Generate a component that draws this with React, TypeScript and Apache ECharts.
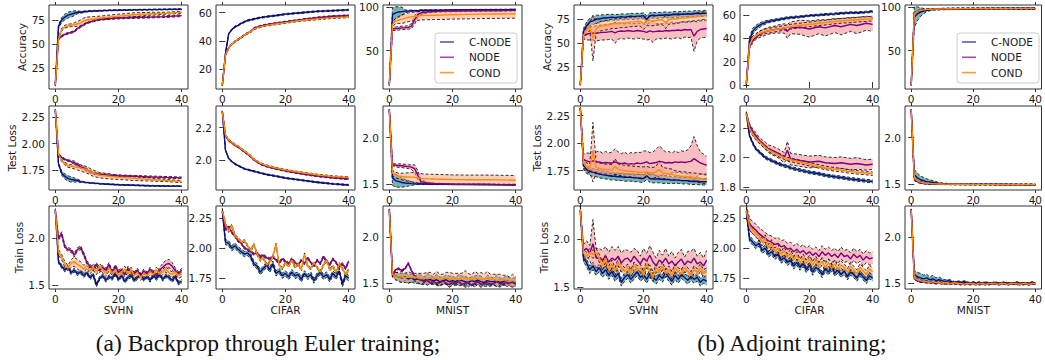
import React, { useEffect, useRef } from "react";
import * as echarts from "echarts";

// ---------- epochs ----------
const EPOCHS_SPARSE = [0, 1, 2, 3, 4, 5, 6, 7, 8, 9, 10, 12, 14, 17, 20, 25, 30, 35, 40];
const EPOCHS_MID = [0, 1, 2, 3, 4, 5, 6, 7, 8, 9, 10, 12, 13, 14, 17, 20, 23, 25, 28, 30, 33, 35, 38, 40];
const EPOCHS_ALL = Array.from({ length: 41 }, (_, i) => i);
const X_TICKS = [0, 20, 40];

// ---------- labels ----------
const METHODS = ["C-NODE", "NODE", "COND"];
const DATASETS = ["SVHN", "CIFAR", "MNIST"];
const METRICS = ["Accuracy", "Test Loss", "Train Loss"];
const CAPTIONS = ["(a) Backprop through Euler training;", "(b) Adjoint training;"];

// ---------- colours ----------
const LINE_COLORS = ["#0b0b86", "#800080", "#ff8c00"];
const LEGEND_COLORS = ["#5a5ab4", "#a24ca2", "#ff9c33"];
const BAND_COLORS = ["#3e9799", "#f08080", "#ffa07a"];
const BAND_OPACITY = [0.72, 0.5, 0.5];

// ================= (a) Euler: SVHN accuracy =================
const eSvhnAccC = [8, 68, 75, 78, 80, 81, 82, 83, 83, 83.5, 84, 84.3, 84.6, 85, 85.2, 85.5, 85.8, 86, 86.2];
const eSvhnAccCsd = [1, 2, 2.5, 3, 3, 3, 2.5, 1.5, 1, 0.8, 0.7, 0.6, 0.5, 0.5, 0.5, 0.5, 0.5, 0.5, 0.5];
const eSvhnAccN = [7, 55, 58, 60, 61, 62, 63, 66, 68, 70, 72, 74, 75.5, 76.5, 77, 77.5, 78, 78.5, 79.5];
const eSvhnAccNsd = 0.9;
const eSvhnAccD = [7, 55, 65, 68, 69, 69.5, 70, 71, 72, 74, 75, 76, 77, 78, 79, 80.5, 81.5, 82, 83];
const eSvhnAccDsd = [1, 1, 1.5, 1.5, 1.5, 1.5, 2, 2.5, 3, 3, 3, 2.5, 2, 2, 2, 2, 1.5, 1, 1];

// (a) CIFAR accuracy
const eCifarAccC = [8.5, 31, 45, 48, 50, 51, 52.5, 53.5, 54.5, 55, 55.5, 56.5, 57.2, 58, 59, 60, 61, 61.5, 62];
const eCifarAccN = [8.5, 30, 35, 37.5, 39.5, 41, 42.5, 44, 45.5, 46.5, 49, 50.5, 51.5, 52.5, 53.5, 55, 56.5, 57.5, 58];
const eCifarAccD = [8.5, 30, 35, 37.5, 39.5, 41, 42.5, 44, 45.5, 46.5, 48.5, 50, 51, 52, 53, 54.5, 55.5, 56.5, 57];
const eCifarAccSd = 0.5;

// (a) MNIST accuracy
const eMnistAccC = [11, 91, 93, 94, 94.5, 95, 95, 95.5, 95.5, 95.5, 96, 96, 96, 96.2, 96.3, 96.5, 96.6, 96.7, 96.8];
const eMnistAccCsd = [0.5, 8, 7, 6, 5, 1.5, 1, 0.8, 0.5, 0.5, 0.5, 0.5, 0.5, 0.5, 0.5, 0.5, 0.5, 0.5, 0.5];
const eMnistAccN = [11, 75, 75, 75.5, 76, 76, 76.5, 78, 85, 91, 93, 94, 94.5, 95, 95.2, 95.5, 95.7, 95.8, 96];
const eMnistAccNsd = [0.5, 2, 2, 2, 2, 2, 2, 3, 5, 3, 2, 1, 1, 1, 1, 1, 1, 1, 1];
const eMnistAccD = [11, 80, 84, 85, 86, 87, 88, 88.5, 89, 89.5, 90, 90.2, 90.4, 90.6, 91, 91.3, 91.6, 91.8, 92];
const eMnistAccDsd = [0.5, 3, 3, 4, 5, 5, 5, 5, 5, 5, 5, 5, 5, 5, 5, 5, 5, 5, 5];

// (a) SVHN test loss
const eSvhnTestC = [2.32, 1.81, 1.72, 1.69, 1.67, 1.66, 1.655, 1.65, 1.64, 1.635, 1.63, 1.625, 1.62, 1.615, 1.61, 1.605, 1.6, 1.598, 1.597];
const eSvhnTestCsd = [0.004, 0.01, 0.02, 0.025, 0.025, 0.025, 0.02, 0.015, 0.008, 0.005, 0.004, 0.004, 0.004, 0.004, 0.004, 0.004, 0.004, 0.004, 0.004];
const eSvhnTestN = [2.32, 1.9, 1.87, 1.85, 1.84, 1.83, 1.82, 1.8, 1.78, 1.77, 1.75, 1.72, 1.71, 1.7, 1.695, 1.69, 1.685, 1.68, 1.675];
const eSvhnTestNsd = [0.004, 0.008, 0.008, 0.008, 0.008, 0.01, 0.015, 0.015, 0.015, 0.015, 0.015, 0.012, 0.01, 0.008, 0.008, 0.008, 0.008, 0.008, 0.008];
const eSvhnTestD = [2.32, 1.9, 1.84, 1.81, 1.79, 1.785, 1.78, 1.775, 1.77, 1.76, 1.75, 1.72, 1.7, 1.69, 1.68, 1.67, 1.66, 1.65, 1.64];
const eSvhnTestDsd = [0.004, 0.01, 0.01, 0.015, 0.015, 0.015, 0.02, 0.025, 0.03, 0.03, 0.03, 0.03, 0.025, 0.025, 0.02, 0.02, 0.015, 0.01, 0.01];

// (a) CIFAR test loss
const eCifarTestC = [2.3, 2.06, 2.01, 1.99, 1.975, 1.965, 1.955, 1.945, 1.94, 1.935, 1.93, 1.92, 1.91, 1.9, 1.888, 1.875, 1.862, 1.852, 1.845];
const eCifarTestN = [2.3, 2.15, 2.12, 2.105, 2.09, 2.08, 2.065, 2.05, 2.035, 2.02, 2.0, 1.975, 1.96, 1.945, 1.932, 1.915, 1.9, 1.89, 1.882];
const eCifarTestD = [2.3, 2.155, 2.125, 2.11, 2.095, 2.085, 2.07, 2.055, 2.04, 2.025, 2.005, 1.98, 1.965, 1.95, 1.938, 1.922, 1.908, 1.898, 1.892];
const eCifarTestSd = 0.004;

// (a) MNIST test loss
const eMnistTestC = [2.3, 1.57, 1.54, 1.53, 1.52, 1.515, 1.512, 1.508, 1.506, 1.505, 1.504, 1.503, 1.502, 1.501, 1.5, 1.5, 1.499, 1.498, 1.497];
const eMnistTestCsd = [0.004, 0.08, 0.07, 0.06, 0.05, 0.04, 0.03, 0.02, 0.01, 0.005, 0.004, 0.004, 0.004, 0.004, 0.004, 0.004, 0.004, 0.004, 0.004];
const eMnistTestN = [2.3, 1.71, 1.705, 1.7, 1.7, 1.695, 1.69, 1.685, 1.67, 1.6, 1.53, 1.515, 1.51, 1.505, 1.502, 1.5, 1.5, 1.498, 1.496];
const eMnistTestNsd = [0.004, 0.01, 0.015, 0.02, 0.02, 0.02, 0.02, 0.025, 0.04, 0.05, 0.02, 0.01, 0.005, 0.005, 0.005, 0.005, 0.005, 0.005, 0.005];
const eMnistTestD = [2.3, 1.62, 1.6, 1.59, 1.585, 1.58, 1.58, 1.578, 1.575, 1.57, 1.565, 1.56, 1.558, 1.555, 1.552, 1.55, 1.55, 1.548, 1.545];
const eMnistTestDsd = [0.004, 0.03, 0.03, 0.03, 0.035, 0.04, 0.045, 0.05, 0.05, 0.05, 0.05, 0.05, 0.05, 0.05, 0.05, 0.05, 0.05, 0.05, 0.05];

// (a) SVHN train loss
const eSvhnTrainC = [2.3, 1.75, 1.7, 1.66, 1.69, 1.63, 1.66, 1.62, 1.64, 1.6, 1.63, 1.58, 1.61, 1.5, 1.57, 1.6, 1.55, 1.59, 1.57, 1.62, 1.56, 1.6, 1.54, 1.58, 1.6, 1.55, 1.58, 1.61, 1.56, 1.59, 1.55, 1.6, 1.57, 1.61, 1.56, 1.6, 1.58, 1.55, 1.59, 1.52, 1.54];
const eSvhnTrainCsd = 0.02;
const eSvhnTrainN = [2.3, 2.0, 2.05, 1.91, 1.88, 1.87, 1.82, 1.88, 1.9, 1.83, 1.74, 1.7, 1.67, 1.72, 1.65, 1.69, 1.66, 1.72, 1.63, 1.7, 1.64, 1.66, 1.61, 1.68, 1.64, 1.62, 1.66, 1.6, 1.65, 1.62, 1.67, 1.63, 1.6, 1.66, 1.69, 1.72, 1.73, 1.7, 1.65, 1.62, 1.66];
const eSvhnTrainNsd = [0.004, 0.02, 0.02, 0.02, 0.02, 0.02, 0.02, 0.02, 0.02, 0.02, 0.02, 0.02, 0.02, 0.02, 0.02, 0.02, 0.02, 0.02, 0.02, 0.02, 0.02, 0.02, 0.02, 0.02, 0.02, 0.02, 0.02, 0.02, 0.02, 0.02, 0.02, 0.02, 0.02, 0.03, 0.04, 0.045, 0.045, 0.04, 0.03, 0.02, 0.02];
const eSvhnTrainD = [2.3, 1.85, 1.8, 1.72, 1.68, 1.73, 1.75, 1.72, 1.7, 1.67, 1.71, 1.65, 1.69, 1.64, 1.7, 1.66, 1.62, 1.68, 1.63, 1.66, 1.6, 1.64, 1.67, 1.62, 1.66, 1.6, 1.63, 1.58, 1.62, 1.6, 1.64, 1.61, 1.66, 1.62, 1.64, 1.67, 1.63, 1.61, 1.64, 1.6, 1.62];
const eSvhnTrainDsd = [0.004, 0.03, 0.03, 0.03, 0.03, 0.04, 0.05, 0.05, 0.05, 0.04, 0.03, 0.03, 0.03, 0.03, 0.03, 0.03, 0.03, 0.03, 0.03, 0.03, 0.03, 0.03, 0.03, 0.03, 0.03, 0.03, 0.03, 0.03, 0.03, 0.03, 0.03, 0.03, 0.03, 0.03, 0.03, 0.03, 0.03, 0.03, 0.03, 0.03, 0.03];

// (a) CIFAR train loss
const eCifarTrainC = [2.31, 2.05, 2.04, 2.0, 2.02, 1.99, 1.97, 1.95, 1.96, 1.93, 1.87, 1.85, 1.8, 1.83, 1.86, 1.82, 1.87, 1.79, 1.81, 1.77, 1.79, 1.76, 1.8, 1.77, 1.78, 1.74, 1.79, 1.76, 1.78, 1.73, 1.77, 1.8, 1.76, 1.78, 1.74, 1.79, 1.76, 1.81, 1.7, 1.77, 1.75];
const eCifarTrainCsd = 0.022;
const eCifarTrainN = [2.31, 2.15, 2.18, 2.13, 2.1, 2.06, 2.04, 2.0, 1.99, 1.97, 1.95, 1.96, 1.93, 1.94, 1.92, 1.91, 1.93, 1.9, 1.88, 1.91, 1.89, 1.87, 1.91, 1.88, 1.86, 1.9, 1.87, 1.92, 1.88, 1.85, 1.9, 1.87, 1.93, 1.89, 1.86, 1.91, 1.88, 1.84, 1.87, 1.83, 1.89];
const eCifarTrainD = [2.31, 2.2, 2.14, 2.19, 2.1, 2.08, 2.05, 2.06, 2.02, 1.98, 2.03, 1.95, 1.9, 1.92, 1.86, 1.88, 1.93, 2.03, 1.86, 1.83, 1.88, 1.85, 1.9, 1.84, 1.87, 1.82, 1.95, 1.85, 1.83, 1.88, 1.84, 1.8, 1.86, 1.9, 1.82, 1.85, 1.8, 1.87, 1.83, 1.78, 1.82];
const eCifarTrainNDsd = 0.01;

// (a) MNIST train loss
const eMnistTrainC = [2.3, 1.6, 1.58, 1.57, 1.56, 1.57, 1.55, 1.56, 1.54, 1.55, 1.54, 1.53, 1.55, 1.54, 1.53, 1.54, 1.52, 1.53, 1.54, 1.52, 1.53, 1.52, 1.54, 1.53, 1.52, 1.51, 1.53, 1.52, 1.54, 1.52, 1.51, 1.53, 1.52, 1.52, 1.53, 1.51, 1.52, 1.53, 1.52, 1.51, 1.52];
const eMnistTrainCsd = [0.004, 0.03, 0.04, 0.04, 0.05, 0.04, 0.05, 0.04, 0.04, 0.05, 0.05, 0.04, 0.06, 0.05, 0.04, 0.06, 0.05, 0.04, 0.05, 0.06, 0.05, 0.04, 0.06, 0.05, 0.06, 0.05, 0.04, 0.06, 0.05, 0.06, 0.04, 0.06, 0.05, 0.04, 0.06, 0.05, 0.04, 0.05, 0.04, 0.05, 0.04];
const eMnistTrainN = [2.3, 1.58, 1.65, 1.66, 1.64, 1.66, 1.72, 1.64, 1.58, 1.55, 1.54, 1.52, 1.53, 1.51, 1.52, 1.5, 1.51, 1.53, 1.5, 1.49, 1.51, 1.5, 1.52, 1.49, 1.5, 1.51, 1.48, 1.5, 1.52, 1.49, 1.5, 1.51, 1.49, 1.5, 1.52, 1.5, 1.49, 1.51, 1.5, 1.52, 1.49];
const eMnistTrainNsd = 0.01;
const eMnistTrainD = [2.3, 1.6, 1.58, 1.57, 1.57, 1.56, 1.57, 1.56, 1.57, 1.56, 1.55, 1.56, 1.55, 1.56, 1.55, 1.56, 1.54, 1.55, 1.56, 1.54, 1.55, 1.56, 1.54, 1.55, 1.56, 1.55, 1.54, 1.56, 1.55, 1.54, 1.55, 1.56, 1.54, 1.55, 1.53, 1.54, 1.55, 1.53, 1.52, 1.53, 1.52];
const eMnistTrainDsd = [0.004, 0.03, 0.04, 0.05, 0.06, 0.05, 0.06, 0.05, 0.04, 0.05, 0.06, 0.05, 0.07, 0.06, 0.05, 0.07, 0.06, 0.05, 0.06, 0.08, 0.06, 0.05, 0.07, 0.06, 0.08, 0.06, 0.05, 0.07, 0.06, 0.08, 0.05, 0.07, 0.06, 0.05, 0.07, 0.06, 0.04, 0.06, 0.05, 0.07, 0.05];

// ================= (b) Adjoint: SVHN accuracy =================
const bSvhnAccC = [6, 62, 68, 72, 73, 75, 75, 76, 76, 76.5, 77, 76.5, 77, 77.5, 77, 77.5, 78, 77.5, 78, 78, 78.5, 74.5, 78.5, 79, 78.5, 79, 79, 79.5, 79, 79.5, 80, 79.5, 80, 80, 80.5, 80, 80.5, 81, 80.5, 81, 81];
const bSvhnAccCsd = [0.5, 3, 4, 4, 4, 4, 4, 3.5, 3.5, 3.5, 3, 3, 3, 3, 3, 3, 3, 3, 3, 3, 3, 4, 3, 3, 3, 3, 3, 3, 3, 3, 3, 3, 3, 3, 3, 3, 3, 3, 3, 3, 3];
const bSvhnAccN = [6, 58, 59, 60, 60, 60, 60.5, 61, 61, 61.5, 62, 60.5, 62, 62.5, 62, 63, 62.5, 62, 63, 62.5, 62, 61, 62.5, 61.5, 62, 62.5, 62, 63, 62.5, 63, 63, 63.5, 63, 64, 63.5, 64, 57, 62, 64, 64.5, 65];
const bSvhnAccNsd = [0.5, 4, 6, 7, 7, 8, 8, 8, 8, 8, 8, 11, 8, 8, 8, 8, 8, 8, 8, 8, 8, 8, 9, 11, 8, 8, 8, 8, 8, 9, 8, 8, 9, 8, 8, 8, 16, 10, 9, 9, 9];
const bSvhnAccD = [6, 58, 63, 67, 55, 65, 67, 68, 68.5, 69, 70, 70, 70.5, 71, 71, 71.5, 72, 72, 72.5, 72.5, 70, 73, 73, 73, 73.5, 74, 74, 71, 74.5, 75, 75, 75.5, 76, 76, 76.5, 77, 77, 77.5, 78, 78.5, 79];
const bSvhnAccDsd = [0.5, 4, 4, 4, 24, 5, 5, 5, 5, 5, 5, 5, 5, 5, 5, 5, 5, 5, 5, 5, 6, 5, 5, 5, 5, 5, 5, 6, 5, 5, 5, 5, 4, 4, 4, 4, 4, 4, 4, 4, 4];

// (b) CIFAR accuracy
const bCifarAccC = [1, 38, 46, 49, 51, 52.5, 53.5, 54.5, 55, 55.5, 56, 57, 57.5, 57.8, 58.5, 59.5, 60, 60.5, 61, 61.5, 62, 62, 62.5, 63];
const bCifarAccCsd = [0.5, 3, 2.5, 2, 2, 1.5, 1.5, 1.2, 1.2, 1, 1, 1, 1, 1, 0.8, 0.8, 0.8, 0.8, 0.8, 0.8, 0.8, 0.8, 0.8, 0.8];
const bCifarAccN = [1, 33, 38, 41, 43, 44.5, 45.5, 46.5, 47, 47.5, 48, 48.5, 46, 49, 49.5, 48, 50, 49, 51, 50, 52, 51, 53, 52];
const bCifarAccNsd = [0.5, 2, 2, 2, 2.5, 3, 3, 3, 3, 3, 3.5, 4, 6, 5, 6, 7, 6, 7, 6, 7, 6, 7, 6, 6];
const bCifarAccD = [1, 34, 40, 42, 44, 45, 46, 46.5, 47, 47.5, 48, 49, 49.5, 50, 51, 52, 53, 53.5, 54.5, 55, 55.5, 56, 56.5, 57];
const bCifarAccDsd = 2;

// (b) MNIST accuracy
const bMnistAccC = [11, 88, 92, 94, 95, 96, 96.5, 97, 97, 97.2, 97.3, 97.5, 97.6, 97.7, 97.8, 97.9, 98, 98, 98.1];
const bMnistAccCsd = [0.5, 12, 8, 5, 3, 1.5, 1, 0.8, 0.8, 0.8, 0.8, 0.8, 0.8, 0.8, 0.8, 0.8, 0.8, 0.8, 0.8];
const bMnistAccN = [11, 93, 95, 96, 96.5, 97, 97, 97.2, 97.3, 97.4, 97.5, 97.6, 97.7, 97.8, 97.9, 98, 98, 98.1, 98.1];
const bMnistAccD = [11, 92, 95, 96, 96.5, 97, 97.2, 97.3, 97.4, 97.5, 97.6, 97.7, 97.8, 97.9, 98, 98, 98.1, 98.2, 98.2];
const bMnistAccNDsd = 0.6;

// (b) SVHN test loss
const bSvhnTestC = [2.32, 1.8, 1.76, 1.745, 1.735, 1.73, 1.72, 1.715, 1.71, 1.705, 1.7, 1.7, 1.695, 1.695, 1.69, 1.69, 1.69, 1.685, 1.685, 1.68, 1.68, 1.705, 1.68, 1.675, 1.675, 1.675, 1.67, 1.67, 1.67, 1.665, 1.665, 1.665, 1.66, 1.66, 1.66, 1.655, 1.655, 1.655, 1.65, 1.65, 1.65];
const bSvhnTestCsd = [0.004, 0.035, 0.035, 0.035, 0.035, 0.035, 0.035, 0.035, 0.035, 0.035, 0.035, 0.035, 0.035, 0.035, 0.035, 0.035, 0.035, 0.035, 0.035, 0.035, 0.035, 0.035, 0.035, 0.035, 0.035, 0.035, 0.035, 0.035, 0.035, 0.03, 0.03, 0.03, 0.03, 0.03, 0.03, 0.03, 0.03, 0.03, 0.03, 0.03, 0.03];
const bSvhnTestN = [2.32, 1.85, 1.84, 1.83, 1.84, 1.83, 1.83, 1.82, 1.825, 1.82, 1.82, 1.83, 1.82, 1.815, 1.82, 1.81, 1.815, 1.81, 1.82, 1.815, 1.82, 1.83, 1.815, 1.82, 1.825, 1.835, 1.83, 1.82, 1.825, 1.82, 1.83, 1.825, 1.83, 1.825, 1.83, 1.835, 1.86, 1.84, 1.82, 1.81, 1.8];
const bSvhnTestNsd = [0.004, 0.05, 0.07, 0.08, 0.09, 0.09, 0.1, 0.09, 0.1, 0.09, 0.1, 0.12, 0.1, 0.09, 0.1, 0.09, 0.1, 0.1, 0.1, 0.1, 0.11, 0.1, 0.1, 0.1, 0.12, 0.14, 0.12, 0.1, 0.1, 0.09, 0.1, 0.09, 0.1, 0.1, 0.11, 0.14, 0.2, 0.14, 0.1, 0.09, 0.08];
const bSvhnTestD = [2.32, 1.82, 1.78, 1.77, 1.92, 1.78, 1.77, 1.765, 1.76, 1.76, 1.755, 1.79, 1.76, 1.755, 1.75, 1.745, 1.745, 1.74, 1.74, 1.735, 1.735, 1.74, 1.73, 1.73, 1.74, 1.76, 1.73, 1.725, 1.72, 1.715, 1.71, 1.705, 1.7, 1.7, 1.695, 1.69, 1.69, 1.685, 1.68, 1.675, 1.67];
const bSvhnTestDsd = [0.004, 0.04, 0.04, 0.04, 0.27, 0.05, 0.05, 0.05, 0.05, 0.05, 0.05, 0.07, 0.05, 0.05, 0.05, 0.05, 0.05, 0.05, 0.05, 0.05, 0.05, 0.05, 0.05, 0.05, 0.05, 0.08, 0.05, 0.05, 0.05, 0.05, 0.04, 0.04, 0.04, 0.04, 0.04, 0.04, 0.04, 0.04, 0.04, 0.04, 0.04];

// (b) CIFAR test loss
const bCifarTestC = [2.3, 2.15, 2.1, 2.06, 2.04, 2.02, 2.0, 1.99, 1.98, 1.97, 1.96, 1.945, 1.94, 1.93, 1.915, 1.9, 1.89, 1.88, 1.87, 1.865, 1.855, 1.85, 1.842, 1.838];
const bCifarTestCsd = 0.01;
const bCifarTestN = [2.3, 2.22, 2.18, 2.15, 2.12, 2.1, 2.08, 2.06, 2.05, 2.04, 2.03, 2.0, 2.05, 1.99, 1.98, 1.97, 1.975, 1.965, 1.96, 1.965, 1.955, 1.96, 1.95, 1.955];
const bCifarTestNsd = [0.004, 0.01, 0.015, 0.02, 0.02, 0.02, 0.025, 0.025, 0.03, 0.03, 0.03, 0.035, 0.06, 0.04, 0.04, 0.04, 0.04, 0.04, 0.04, 0.04, 0.04, 0.04, 0.035, 0.035];
const bCifarTestD = [2.3, 2.2, 2.16, 2.13, 2.11, 2.09, 2.07, 2.055, 2.04, 2.03, 2.02, 2.0, 1.99, 1.985, 1.97, 1.955, 1.94, 1.93, 1.92, 1.915, 1.905, 1.9, 1.895, 1.89];
const bCifarTestDsd = 0.012;

// (b) MNIST test loss
const bMnistTestC = [2.3, 1.6, 1.57, 1.55, 1.54, 1.53, 1.525, 1.52, 1.515, 1.51, 1.508, 1.505, 1.503, 1.502, 1.5, 1.5, 1.499, 1.498, 1.497];
const bMnistTestCsd = [0.004, 0.06, 0.05, 0.04, 0.035, 0.03, 0.025, 0.02, 0.015, 0.01, 0.008, 0.006, 0.005, 0.005, 0.005, 0.005, 0.005, 0.005, 0.005];
const bMnistTestN = [2.3, 1.56, 1.53, 1.52, 1.515, 1.51, 1.508, 1.506, 1.505, 1.504, 1.503, 1.502, 1.501, 1.5, 1.5, 1.5, 1.499, 1.498, 1.498];
const bMnistTestD = [2.3, 1.57, 1.54, 1.525, 1.518, 1.512, 1.51, 1.508, 1.506, 1.505, 1.504, 1.503, 1.502, 1.501, 1.5, 1.5, 1.499, 1.499, 1.498];
const bMnistTestNDsd = 0.005;

// (b) SVHN train loss
const bSvhnTrainC = [2.3, 1.8, 1.75, 1.68, 1.72, 1.66, 1.7, 1.64, 1.68, 1.62, 1.66, 1.6, 1.64, 1.55, 1.6, 1.63, 1.58, 1.62, 1.66, 1.6, 1.63, 1.58, 1.64, 1.6, 1.57, 1.62, 1.59, 1.65, 1.6, 1.56, 1.62, 1.58, 1.63, 1.6, 1.57, 1.61, 1.58, 1.6, 1.55, 1.58, 1.56];
const bSvhnTrainN = [2.3, 1.88, 1.9, 1.85, 1.95, 1.8, 1.8, 1.78, 1.82, 1.76, 1.8, 1.78, 1.82, 1.75, 1.79, 1.8, 1.76, 1.82, 1.78, 1.74, 1.8, 1.77, 1.83, 1.76, 1.72, 1.78, 1.75, 1.8, 1.74, 1.77, 1.72, 1.76, 1.79, 1.73, 1.77, 1.75, 1.8, 1.74, 1.76, 1.72, 1.78];
const bSvhnTrainNsd = [0.004, 0.06, 0.08, 0.08, 0.25, 0.1, 0.1, 0.1, 0.1, 0.1, 0.12, 0.1, 0.1, 0.1, 0.1, 0.08, 0.1, 0.08, 0.1, 0.08, 0.1, 0.08, 0.1, 0.1, 0.08, 0.1, 0.08, 0.1, 0.08, 0.1, 0.08, 0.1, 0.1, 0.08, 0.1, 0.12, 0.1, 0.08, 0.1, 0.08, 0.1];
const bSvhnTrainD = [2.3, 1.85, 1.82, 1.86, 1.84, 1.86, 1.8, 1.72, 1.8, 1.68, 1.74, 1.66, 1.76, 1.7, 1.66, 1.7, 1.64, 1.72, 1.68, 1.7, 1.62, 1.74, 1.66, 1.6, 1.7, 1.66, 1.72, 1.64, 1.68, 1.62, 1.7, 1.66, 1.64, 1.7, 1.66, 1.62, 1.68, 1.65, 1.7, 1.64, 1.66];
const bSvhnTrainCDsd = 0.04;

// (b) CIFAR train loss
const bCifarTrainC = [2.31, 2.08, 2.05, 2.02, 2.04, 1.98, 2.0, 1.95, 1.97, 1.93, 1.95, 1.9, 1.92, 1.88, 1.9, 1.85, 1.88, 1.84, 1.87, 1.82, 1.86, 1.8, 1.84, 1.82, 1.78, 1.83, 1.8, 1.85, 1.79, 1.82, 1.78, 1.81, 1.76, 1.8, 1.78, 1.75, 1.79, 1.76, 1.73, 1.77, 1.75];
const bCifarTrainCsd = 0.025;
const bCifarTrainN = [2.31, 2.2, 2.17, 2.15, 2.12, 2.1, 2.08, 2.06, 2.05, 2.03, 2.04, 2.01, 2.02, 1.99, 2.0, 1.97, 1.99, 1.96, 1.98, 1.95, 1.97, 1.94, 1.96, 1.93, 1.97, 1.94, 1.96, 1.93, 1.95, 1.92, 1.96, 1.93, 1.94, 1.91, 1.95, 1.92, 1.94, 1.9, 1.93, 1.91, 1.92];
const bCifarTrainNsd = 0.05;
const bCifarTrainD = [2.31, 2.18, 2.15, 2.12, 2.1, 2.05, 2.08, 2.0, 2.04, 1.97, 2.0, 1.94, 1.98, 1.92, 1.96, 1.9, 1.94, 1.88, 1.92, 1.87, 1.91, 1.86, 1.9, 1.85, 1.89, 1.84, 1.88, 1.83, 1.87, 1.82, 1.86, 1.84, 1.8, 1.85, 1.82, 1.79, 1.84, 1.81, 1.78, 1.83, 1.8];
const bCifarTrainDsd = 0.03;

// (b) MNIST train loss
const bMnistTrainC = [2.3, 1.6, 1.57, 1.56, 1.55, 1.56, 1.54, 1.55, 1.53, 1.54, 1.53, 1.52, 1.53, 1.52, 1.51, 1.52, 1.51, 1.52, 1.51, 1.5, 1.51, 1.5, 1.51, 1.5, 1.51, 1.5, 1.5, 1.51, 1.5, 1.5, 1.51, 1.5, 1.5, 1.5, 1.51, 1.5, 1.5, 1.5, 1.5, 1.51, 1.5];
const bMnistTrainCsd = [0.004, 0.04, 0.05, 0.05, 0.04, 0.04, 0.03, 0.04, 0.03, 0.03, 0.02, 0.02, 0.015, 0.015, 0.01, 0.01, 0.01, 0.01, 0.01, 0.01, 0.01, 0.01, 0.01, 0.01, 0.01, 0.01, 0.01, 0.01, 0.01, 0.01, 0.01, 0.01, 0.01, 0.01, 0.01, 0.01, 0.01, 0.01, 0.01, 0.01, 0.01];
const bMnistTrainN = [2.3, 1.55, 1.53, 1.52, 1.52, 1.51, 1.51, 1.51, 1.5, 1.51, 1.5, 1.5, 1.5, 1.5, 1.5, 1.5, 1.49, 1.5, 1.5, 1.49, 1.5, 1.5, 1.49, 1.5, 1.5, 1.49, 1.5, 1.5, 1.49, 1.5, 1.5, 1.49, 1.5, 1.5, 1.49, 1.5, 1.49, 1.5, 1.49, 1.5, 1.49];
const bMnistTrainNsd = 0.008;
const bMnistTrainD = [2.3, 1.56, 1.54, 1.53, 1.52, 1.52, 1.51, 1.52, 1.51, 1.51, 1.5, 1.51, 1.5, 1.5, 1.51, 1.5, 1.5, 1.49, 1.5, 1.5, 1.5, 1.49, 1.5, 1.5, 1.49, 1.5, 1.5, 1.5, 1.49, 1.5, 1.5, 1.49, 1.5, 1.5, 1.5, 1.49, 1.5, 1.5, 1.49, 1.5, 1.5];
const bMnistTrainDsd = 0.01;

// ---------- y tick labels ----------
const TICKS_ACC_SVHN = [25, 50, 75];
const TICKS_ACC_CIFAR_A = [20, 40, 60];
const TICKS_ACC_CIFAR_B = [0, 20, 40, 60];
const TICKS_ACC_MNIST = [50, 100];
const TICKS_LOSS_QUARTER = [1.75, 2.0, 2.25];
const TICKS_LOSS_HALF = [1.5, 2.0];
const TICKS_CIFAR_TEST_A = [2.0, 2.2];
const TICKS_CIFAR_TEST_B = [1.8, 2.0, 2.2];

type Spread = number | number[];
type Panel = {
  group: number;
  row: number;
  col: number;
  xs: number[];
  means: number[][];
  sds: Spread[];
  yRange: [number, number];
  yTicks: number[];
  decimals: number;
};

const PANELS: Panel[] = [
  // (a) Euler
  { group: 0, row: 0, col: 0, xs: EPOCHS_SPARSE, means: [eSvhnAccC, eSvhnAccN, eSvhnAccD], sds: [eSvhnAccCsd, eSvhnAccNsd, eSvhnAccDsd], yRange: [3, 90.6], yTicks: TICKS_ACC_SVHN, decimals: 0 },
  { group: 0, row: 0, col: 1, xs: EPOCHS_SPARSE, means: [eCifarAccC, eCifarAccN, eCifarAccD], sds: [eCifarAccSd, eCifarAccSd, eCifarAccSd], yRange: [5.8, 65.5], yTicks: TICKS_ACC_CIFAR_A, decimals: 0 },
  { group: 0, row: 0, col: 2, xs: EPOCHS_SPARSE, means: [eMnistAccC, eMnistAccN, eMnistAccD], sds: [eMnistAccCsd, eMnistAccNsd, eMnistAccDsd], yRange: [6.5, 102], yTicks: TICKS_ACC_MNIST, decimals: 0 },
  { group: 0, row: 1, col: 0, xs: EPOCHS_SPARSE, means: [eSvhnTestC, eSvhnTestN, eSvhnTestD], sds: [eSvhnTestCsd, eSvhnTestNsd, eSvhnTestDsd], yRange: [1.56, 2.357], yTicks: TICKS_LOSS_QUARTER, decimals: 2 },
  { group: 0, row: 1, col: 1, xs: EPOCHS_SPARSE, means: [eCifarTestC, eCifarTestN, eCifarTestD], sds: [eCifarTestSd, eCifarTestSd, eCifarTestSd], yRange: [1.814, 2.334], yTicks: TICKS_CIFAR_TEST_A, decimals: 1 },
  { group: 0, row: 1, col: 2, xs: EPOCHS_SPARSE, means: [eMnistTestC, eMnistTestN, eMnistTestD], sds: [eMnistTestCsd, eMnistTestNsd, eMnistTestDsd], yRange: [1.44, 2.34], yTicks: TICKS_LOSS_HALF, decimals: 1 },
  { group: 0, row: 2, col: 0, xs: EPOCHS_ALL, means: [eSvhnTrainC, eSvhnTrainN, eSvhnTrainD], sds: [eSvhnTrainCsd, eSvhnTrainNsd, eSvhnTrainDsd], yRange: [1.457, 2.346], yTicks: TICKS_LOSS_HALF, decimals: 1 },
  { group: 0, row: 2, col: 1, xs: EPOCHS_ALL, means: [eCifarTrainC, eCifarTrainN, eCifarTrainD], sds: [eCifarTrainCsd, eCifarTrainNDsd, eCifarTrainNDsd], yRange: [1.66, 2.35], yTicks: TICKS_LOSS_QUARTER, decimals: 2 },
  { group: 0, row: 2, col: 2, xs: EPOCHS_ALL, means: [eMnistTrainC, eMnistTrainN, eMnistTrainD], sds: [eMnistTrainCsd, eMnistTrainNsd, eMnistTrainDsd], yRange: [1.44, 2.34], yTicks: TICKS_LOSS_HALF, decimals: 1 },
  // (b) Adjoint
  { group: 1, row: 0, col: 0, xs: EPOCHS_ALL, means: [bSvhnAccC, bSvhnAccN, bSvhnAccD], sds: [bSvhnAccCsd, bSvhnAccNsd, bSvhnAccDsd], yRange: [1.6, 89.7], yTicks: TICKS_ACC_SVHN, decimals: 0 },
  { group: 1, row: 0, col: 1, xs: EPOCHS_MID, means: [bCifarAccC, bCifarAccN, bCifarAccD], sds: [bCifarAccCsd, bCifarAccNsd, bCifarAccDsd], yRange: [-3.4, 68.6], yTicks: TICKS_ACC_CIFAR_B, decimals: 0 },
  { group: 1, row: 0, col: 2, xs: EPOCHS_SPARSE, means: [bMnistAccC, bMnistAccN, bMnistAccD], sds: [bMnistAccCsd, bMnistAccNDsd, bMnistAccNDsd], yRange: [6.5, 102], yTicks: TICKS_ACC_MNIST, decimals: 0 },
  { group: 1, row: 1, col: 0, xs: EPOCHS_ALL, means: [bSvhnTestC, bSvhnTestN, bSvhnTestD], sds: [bSvhnTestCsd, bSvhnTestNsd, bSvhnTestDsd], yRange: [1.575, 2.338], yTicks: TICKS_LOSS_QUARTER, decimals: 2 },
  { group: 1, row: 1, col: 1, xs: EPOCHS_MID, means: [bCifarTestC, bCifarTestN, bCifarTestD], sds: [bCifarTestCsd, bCifarTestNsd, bCifarTestDsd], yRange: [1.78, 2.35], yTicks: TICKS_CIFAR_TEST_B, decimals: 1 },
  { group: 1, row: 1, col: 2, xs: EPOCHS_SPARSE, means: [bMnistTestC, bMnistTestN, bMnistTestD], sds: [bMnistTestCsd, bMnistTestNDsd, bMnistTestNDsd], yRange: [1.44, 2.34], yTicks: TICKS_LOSS_HALF, decimals: 1 },
  { group: 1, row: 2, col: 0, xs: EPOCHS_ALL, means: [bSvhnTrainC, bSvhnTrainN, bSvhnTrainD], sds: [bSvhnTrainCDsd, bSvhnTrainNsd, bSvhnTrainCDsd], yRange: [1.48, 2.34], yTicks: TICKS_LOSS_HALF, decimals: 1 },
  { group: 1, row: 2, col: 1, xs: EPOCHS_ALL, means: [bCifarTrainC, bCifarTrainN, bCifarTrainD], sds: [bCifarTrainCsd, bCifarTrainNsd, bCifarTrainDsd], yRange: [1.66, 2.35], yTicks: TICKS_LOSS_QUARTER, decimals: 2 },
  { group: 1, row: 2, col: 2, xs: EPOCHS_ALL, means: [bMnistTrainC, bMnistTrainN, bMnistTrainD], sds: [bMnistTrainCsd, bMnistTrainNsd, bMnistTrainDsd], yRange: [1.44, 2.34], yTicks: TICKS_LOSS_HALF, decimals: 1 },
];

// ---------- layout ----------
const COL_LEFT = [
  [49, 216, 383],
  [574, 740, 905],
];
const ROW_TOP = [5, 106, 206];
const ROW_HEIGHT = [84, 84, 83];
const PLOT_WIDTH = 139;
const Y_NAME_GAP = [19, 29, 23];
const FONT = "DejaVu Sans";
const INK = "#1a1a1a";
const FRAME = "#333333";

const spreadAt = (s: Spread, i: number) => (typeof s === "number" ? s : s[i]);

// one shaded band (mean ± spread) with dashed black edges, drawn as a single polygon
function bandSeries(gi: number, xs: number[], mean: number[], s: Spread, k: number) {
  const rows = xs.map((x, i) => [x, mean[i] - spreadAt(s, i), mean[i] + spreadAt(s, i)]);
  return {
    type: "custom",
    coordinateSystem: "cartesian2d",
    xAxisIndex: gi * 2,
    yAxisIndex: gi * 2,
    data: rows,
    encode: { x: 0, y: [1, 2] },
    silent: true,
    clip: true,
    z: 2,
    renderItem: (params: any, api: any) => {
      if (params.dataIndex !== 0) return null;
      const upper = rows.map((r) => api.coord([r[0], r[2]]));
      const lower = rows.map((r) => api.coord([r[0], r[1]]));
      return {
        type: "group",
        children: [
          {
            type: "polygon",
            shape: { points: upper.concat(lower.slice().reverse()) },
            style: { fill: BAND_COLORS[k], opacity: BAND_OPACITY[k] },
          },
          {
            type: "polyline",
            shape: { points: upper },
            style: { stroke: "#000000", lineWidth: 0.8, lineDash: [3, 2], fill: null },
          },
          {
            type: "polyline",
            shape: { points: lower },
            style: { stroke: "#000000", lineWidth: 0.8, lineDash: [3, 2], fill: null },
          },
        ],
      };
    },
  };
}

function buildOption() {
  const grid: any[] = [];
  const xAxis: any[] = [];
  const yAxis: any[] = [];
  const series: any[] = [];

  PANELS.forEach((p, gi) => {
    grid.push({
      left: COL_LEFT[p.group][p.col],
      top: ROW_TOP[p.row],
      width: PLOT_WIDTH,
      height: ROW_HEIGHT[p.row],
      show: true,
      borderColor: FRAME,
      borderWidth: 1,
      backgroundColor: "transparent",
    });

    const tickStyle = { show: true, inside: false, length: 3, lineStyle: { color: FRAME, width: 1 } };
    const labelStyle = { fontFamily: FONT, fontSize: 10.5, color: INK };

    const xBase = {
      gridIndex: gi,
      type: "value",
      min: -2,
      max: 42,
      axisLine: { show: false },
      splitLine: { show: false },
      axisTick: { ...tickStyle, customValues: X_TICKS },
    };
    xAxis.push({
      ...xBase,
      position: "bottom",
      axisLabel: { ...labelStyle, margin: 4, customValues: X_TICKS, formatter: (v: number) => String(v) },
      name: p.row === 2 ? DATASETS[p.col] : "",
      nameLocation: "middle",
      nameGap: 15,
      nameTextStyle: { fontFamily: FONT, fontSize: 10.5, color: INK },
    });
    xAxis.push({ ...xBase, position: "top", axisLabel: { show: false } });

    const yBase = {
      gridIndex: gi,
      type: "value",
      min: p.yRange[0],
      max: p.yRange[1],
      axisLine: { show: false },
      splitLine: { show: false },
      axisTick: { ...tickStyle, customValues: p.yTicks },
    };
    yAxis.push({
      ...yBase,
      position: "left",
      axisLabel: {
        ...labelStyle,
        margin: 4,
        customValues: p.yTicks,
        formatter: (v: number) => v.toFixed(p.decimals),
      },
      name: p.col === 0 ? METRICS[p.row] : "",
      nameLocation: "middle",
      nameGap: Y_NAME_GAP[p.row],
      nameTextStyle: { fontFamily: FONT, fontSize: 10.5, color: INK },
    });
    yAxis.push({ ...yBase, position: "right", axisLabel: { show: false } });

    p.means.forEach((mean, k) => series.push(bandSeries(gi, p.xs, mean, p.sds[k], k)));

    p.means.forEach((mean, k) => {
      series.push({
        type: "line",
        name: METHODS[k],
        xAxisIndex: gi * 2,
        yAxisIndex: gi * 2,
        data: p.xs.map((x, i) => [x, mean[i]]),
        symbol: "none",
        silent: true,
        lineStyle: { color: LINE_COLORS[k], width: 1.4 },
        z: 3,
      });
    });
  });

  // legends inside the MNIST accuracy panels, plus the two captions
  const graphic: any[] = [];
  [0, 1].forEach((g) => {
    const bx = COL_LEFT[g][2] + 52;
    const by = 33;
    graphic.push({
      type: "rect",
      z: 100,
      shape: { x: bx, y: by, width: 82, height: 50, r: 3 },
      style: { fill: "rgba(255,255,255,0.85)", stroke: "#cccccc", lineWidth: 1 },
    });
    METHODS.forEach((m, k) => {
      const ly = by + 9 + k * 15.3;
      graphic.push({
        type: "line",
        z: 101,
        shape: { x1: bx + 5, y1: ly, x2: bx + 19, y2: ly },
        style: { stroke: LEGEND_COLORS[k], lineWidth: 1.6 },
      });
      graphic.push({
        type: "text",
        z: 101,
        x: bx + 34,
        y: ly,
        style: {
          text: m,
          font: `10.5px "${FONT}"`,
          fill: INK,
          textAlign: "left",
          textVerticalAlign: "middle",
        },
      });
    });
    graphic.push({
      type: "text",
      z: 101,
      x: g === 0 ? 268 : 792,
      y: 343,
      style: {
        text: CAPTIONS[g],
        font: '23.5px "Liberation Serif"',
        fill: "#111111",
        textAlign: "center",
        textVerticalAlign: "middle",
      },
    });
  });

  return {
    animation: false,
    backgroundColor: "#ffffff",
    textStyle: { fontFamily: FONT },
    grid,
    xAxis,
    yAxis,
    series,
    graphic,
  };
}

export default function App() {
  const ref = useRef<HTMLDivElement>(null);
  useEffect(() => {
    if (!ref.current) return;
    const chart = echarts.init(ref.current, undefined, { renderer: "svg" });
    chart.setOption(buildOption() as any);
    return () => chart.dispose();
  }, []);
  return (
    <div
      ref={ref}
      style={{ position: "fixed", left: 0, top: 0, width: 1045, height: 360, background: "#fff" }}
    />
  );
}
